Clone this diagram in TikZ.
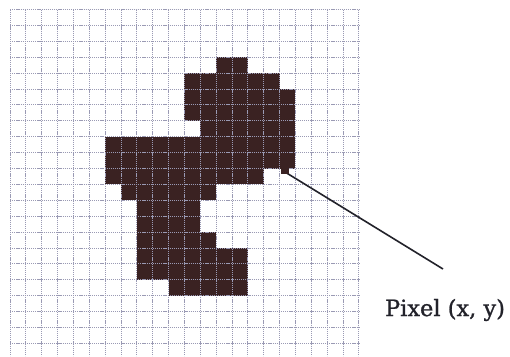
\documentclass[tikz,border=0pt]{standalone}
\usepackage{fontspec}
\newfontfamily\labelfont[FakeBold=1.0]{DejaVu Serif}
\definecolor{pixfill}{HTML}{3A2222}
\definecolor{gridcol}{HTML}{9A9AB4}
\definecolor{inkcol}{HTML}{22222A}
\tikzset{
  gridline/.style={gridcol, line width=0.9pt, dash pattern=on 1.2pt off 0.9pt},
  pixel/.style={fill=pixfill, draw=none},
  pointer/.style={inkcol, line width=1.6pt},
  lbl/.style={inkcol, font=\labelfont\fontsize{22.5}{27}\selectfont, inner sep=0pt}
}
\begin{document}
\begin{tikzpicture}[x=1pt, y=-1pt]
\useasboundingbox (0,0) rectangle (510,356);
\fill[white] (0,0) rectangle (510,356);
\def\dx{15.86}
\def\dy{15.9}
% filled pixels: row/first col/last col
\foreach \r/\a/\b in {3/13/14, 4/11/16, 5/11/17, 6/11/17, 7/12/17, 8/6/17, 9/6/17,
  10/6/15, 11/7/12, 12/8/11, 13/8/11, 14/8/12, 15/8/14, 16/8/14, 17/10/14}{
  \fill[pixel] ({10+\a*\dx},{9.5+\r*\dy}) rectangle ({10+(\b+1)*\dx},{9.5+(\r+1)*\dy});
}
% grid
\foreach \i in {0,...,22}{
  \draw[gridline] ({10+\i*\dx},9.5) -- ({10+\i*\dx},356);
}
\foreach \j in {0,...,21}{
  \draw[gridline] (10,{9.5+\j*\dy}) -- (359,{9.5+\j*\dy});
}
% pointer and label
\coordinate (px) at (285,172);
\coordinate (tip) at (443,269);
\node[lbl] (label) at (445,310) {Pixel (x, y)};
\draw[pointer] (px) -- (tip);
\fill[pixfill] (281,166) rectangle (289,174);
\end{tikzpicture}
\end{document}
